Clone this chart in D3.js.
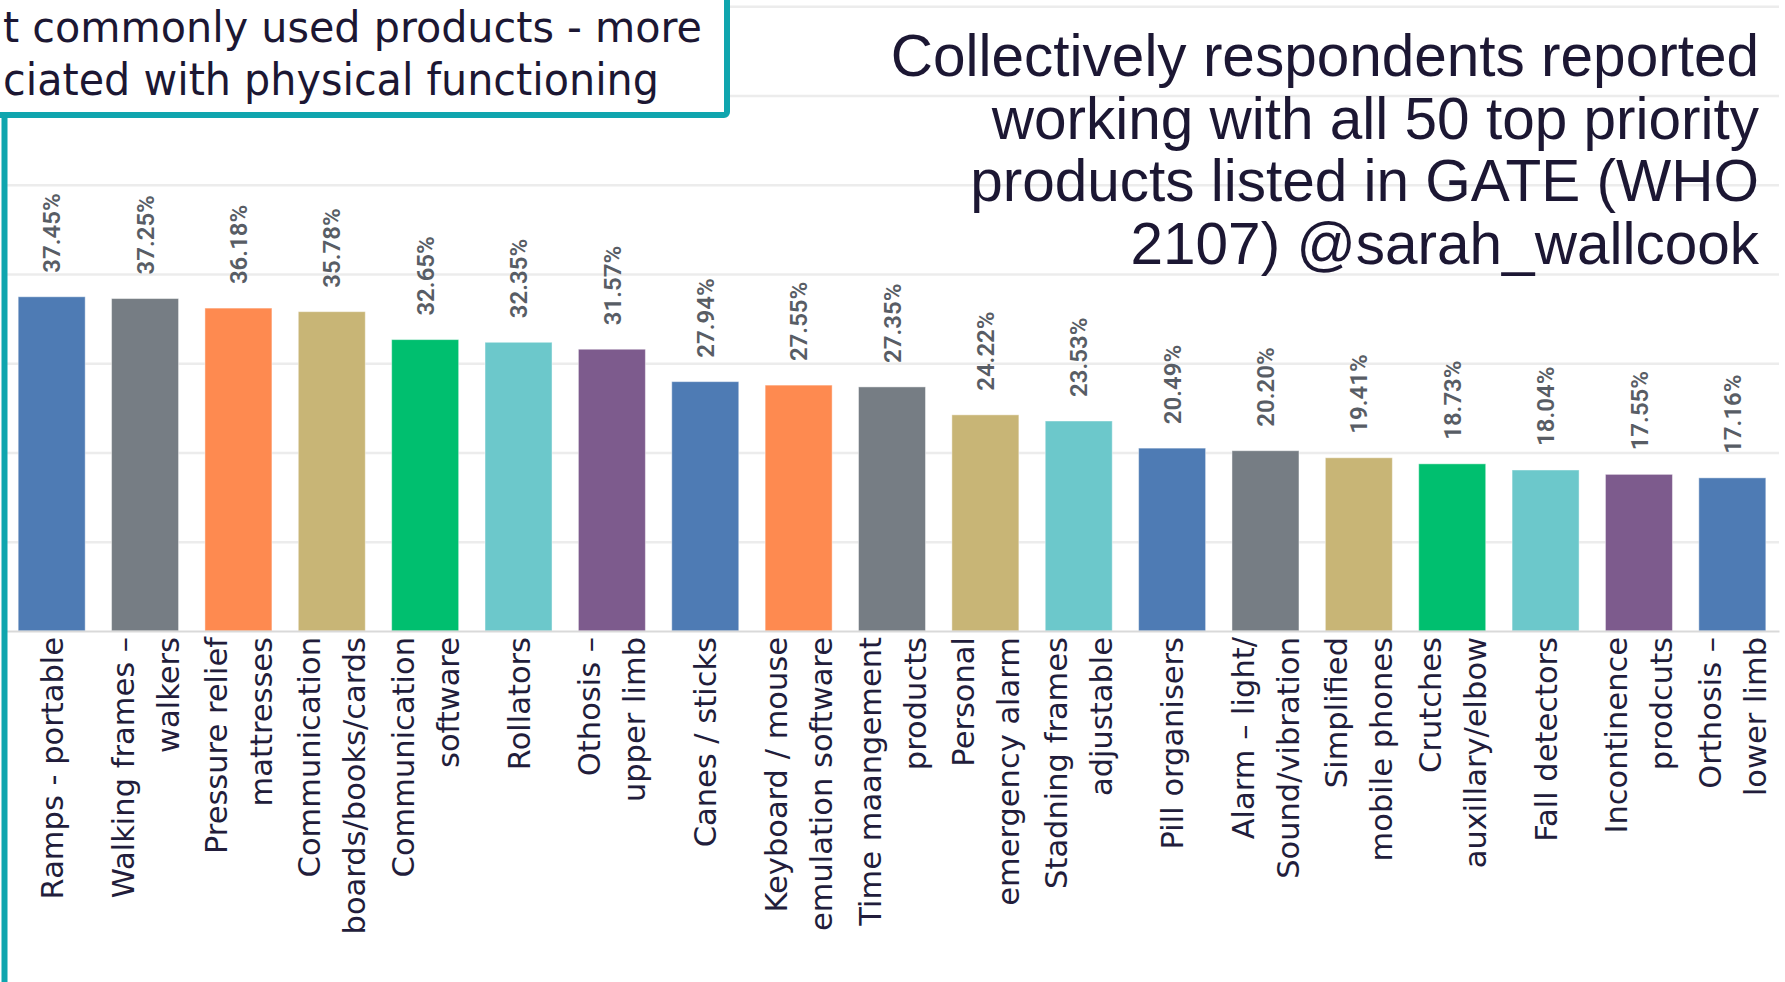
<!DOCTYPE html>
<html>
<head>
<meta charset="utf-8">
<script src="https://cdn.jsdelivr.net/npm/d3@7"></script>
<style>
  html, body { margin: 0; padding: 0; background: #ffffff; overflow: hidden; }
  svg { display: block; }
</style>
</head>
<body>
<script>
// Share of respondents working with each assistive product (top 19 products)
const categories = [
  "Ramps - portable",
  "Walking frames –\nwalkers",
  "Pressure relief\nmattresses",
  "Communication\nboards/books/cards",
  "Communication\nsoftware",
  "Rollators",
  "Othosis –\nupper limb",
  "Canes / sticks",
  "Keyboard / mouse\nemulation software",
  "Time maangement\nproducts",
  "Personal\nemergency alarm",
  "Stadning frames\nadjustable",
  "Pill organisers",
  "Alarm – light/\nSound/vibration",
  "Simplified\nmobile phones",
  "Crutches\nauxillary/elbow",
  "Fall detectors",
  "Incontinence\nprodcuts",
  "Orthosis –\nlower limb"
];

const shares = [37.45, 37.25, 36.18, 35.78, 32.65, 32.35, 31.57, 27.94, 27.55, 27.35,
                24.22, 23.53, 20.49, 20.20, 19.41, 18.73, 18.04, 17.55, 17.16];

const gridTicks = [10, 20, 30, 40, 50, 60, 70];

const titleLines = [
  "Collectively respondents reported",
  "working with all 50 top priority",
  "products listed in GATE (WHO",
  "2107) @sarah_wallcook"
];

// Callout text as it shows inside the corner box
const calloutLines = [
  "t commonly used products - more",
  "ciated with physical functioning"
];

// Bar fill colours, one per category
const barColors = [
  "#4e7bb4", "#767d84", "#fe8a50", "#c8b576", "#00bf6f", "#6cc8cb", "#7d5b8d",
  "#4e7bb4", "#fe8a50", "#767d84", "#c8b576", "#6cc8cb", "#4e7bb4", "#767d84",
  "#c8b576", "#00bf6f", "#6cc8cb", "#7d5b8d", "#4e7bb4"
];

const W = 1785, H = 982;
const baseY = 631;
const left = 5, right = 1779;

const svg = d3.select("body").append("svg")
  .attr("width", W).attr("height", H);

const x = d3.scaleBand()
  .domain(categories)
  .range([left, right])
  .paddingInner(0.2824)
  .paddingOuter(0.1412);

const y = d3.scaleLinear()
  .domain([0, 70.7])
  .range([baseY, 0]);

// Horizontal gridlines
const grid = svg.append("g")
  .attr("transform", `translate(${left},0)`)
  .call(d3.axisRight(y).tickValues(gridTicks).tickSize(right - left).tickFormat(""));
grid.select(".domain").remove();
grid.selectAll(".tick line")
  .attr("stroke", "#ececec")
  .attr("stroke-width", 2.5);

// Bars
svg.append("g")
  .selectAll("rect")
  .data(shares)
  .join("rect")
  .attr("x", (d, i) => x(categories[i]))
  .attr("y", d => y(d))
  .attr("width", x.bandwidth())
  .attr("height", d => baseY - y(d))
  .attr("fill", (d, i) => barColors[i])
  .attr("stroke", "rgba(255,255,255,0.45)")
  .attr("stroke-width", 1);

// Value labels above bars
svg.append("g")
  .selectAll("text")
  .data(shares)
  .join("text")
  .attr("transform", (d, i) =>
    `translate(${x(categories[i]) + x.bandwidth() / 2},${y(d) - 24}) rotate(-90)`)
  .attr("dy", "0.36em")
  .attr("text-anchor", "start")
  .attr("font-family", "Roboto, 'Liberation Sans', sans-serif")
  .attr("font-weight", 600)
  .attr("font-size", 24)
  .attr("fill", "#585d65")
  .text(d => d.toFixed(2) + "%");

// Category axis
const xAxis = svg.append("g")
  .attr("transform", `translate(0,${baseY})`)
  .call(d3.axisBottom(x).tickSize(0).tickSizeOuter(0));
xAxis.select(".domain")
  .attr("stroke", "#d9d9d9")
  .attr("stroke-width", 2);

const lineGap = 45;
xAxis.selectAll(".tick text")
  .attr("y", null)
  .attr("dy", null)
  .attr("transform", "translate(0,6) rotate(-90)")
  .attr("text-anchor", "end")
  .attr("font-family", "'DejaVu Sans', Verdana, sans-serif")
  .attr("font-size", 30.5)
  .attr("fill", "#221d3b")
  .each(function (d) {
    const lines = d.split("\n");
    const t = d3.select(this).text(null);
    lines.forEach((ln, i) => {
      t.append("tspan")
        .attr("x", 0)
        .attr("y", (i - (lines.length - 1) / 2) * lineGap + 11)
        .text(ln);
    });
  });

// Title block, right aligned
const title = svg.append("text")
  .attr("text-anchor", "end")
  .attr("font-family", "'Liberation Sans', Arial, sans-serif")
  .attr("font-size", 58.5)
  .attr("fill", "#1c1733");
titleLines.forEach((ln, i) => {
  title.append("tspan")
    .attr("x", 1759)
    .attr("y", 76 + i * 62.6)
    .text(ln);
});

// Callout box in the top-left corner
svg.append("rect")
  .attr("x", -60)
  .attr("y", -60)
  .attr("width", 787)
  .attr("height", 175)
  .attr("rx", 3)
  .attr("fill", "#ffffff")
  .attr("stroke", "#0fa5ae")
  .attr("stroke-width", 6);

svg.append("line")
  .attr("x1", 4.5).attr("x2", 4.5)
  .attr("y1", 115).attr("y2", H)
  .attr("stroke", "#0fa5ae")
  .attr("stroke-width", 6);

const calloutFont = "'DejaVu Sans Condensed', 'DejaVu Sans', sans-serif";
svg.append("text")
  .attr("x", 3).attr("y", 42)
  .attr("font-family", calloutFont)
  .attr("font-stretch", "condensed")
  .attr("font-size", 43)
  .attr("fill", "#1c1733")
  .attr("textLength", 699)
  .attr("lengthAdjust", "spacingAndGlyphs")
  .text(calloutLines[0]);
svg.append("text")
  .attr("x", 3).attr("y", 95)
  .attr("font-family", calloutFont)
  .attr("font-stretch", "condensed")
  .attr("font-size", 45)
  .attr("fill", "#1c1733")
  .attr("textLength", 656)
  .attr("lengthAdjust", "spacingAndGlyphs")
  .text(calloutLines[1]);
</script>
</body>
</html>
